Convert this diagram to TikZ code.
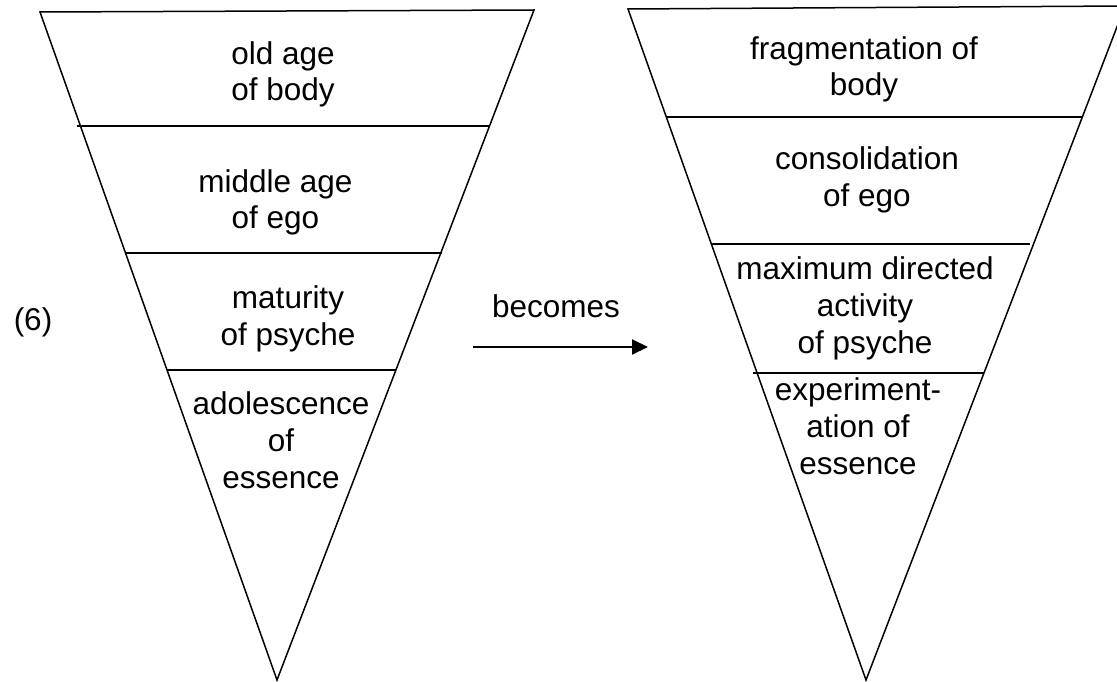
\documentclass[tikz,border=0pt]{standalone}
\usepackage{fontspec}
\setmainfont{Liberation Sans}
\usetikzlibrary{arrows.meta}
\begin{document}
\begin{tikzpicture}[x=1pt,y=-1pt,
  edge/.style={line width=1.5pt, line join=miter},
  divider/.style={line width=1.5pt},
  lbl/.style={font=\fontsize{31.5}{36.7}\selectfont, align=center, inner sep=0pt, anchor=base},
  flow/.style={line width=2pt, -{Triangle[length=16pt,width=15pt]}}]
\useasboundingbox (0,0) rectangle (1117,682);
\clip (0,0) rectangle (1117,682);
% left triangle
\coordinate (LTL) at (40,12);
\coordinate (LTR) at (534,10);
\coordinate (LA) at (277,680);
\draw[edge] (LTL) -- (LTR) -- (LA) -- cycle;
\coordinate (L1a) at (77,126);  \coordinate (L1b) at (489,126);
\coordinate (L2a) at (125,253); \coordinate (L2b) at (442,253);
\coordinate (L3a) at (167,370); \coordinate (L3b) at (396,370);
\draw[divider] (L1a) -- (L1b);
\draw[divider] (L2a) -- (L2b);
\draw[divider] (L3a) -- (L3b);
% right triangle
\coordinate (RTL) at (628,9);
\coordinate (RTR) at (1125,6);
\coordinate (RA) at (866,680);
\draw[edge] (RTL) -- (RTR) -- (RA) -- cycle;
\coordinate (R1a) at (667,117); \coordinate (R1b) at (1082,117);
\coordinate (R2a) at (712,244); \coordinate (R2b) at (1030,244);
\coordinate (R3a) at (753,373); \coordinate (R3b) at (984,373);
\draw[divider] (R1a) -- (R1b);
\draw[divider] (R2a) -- (R2b);
\draw[divider] (R3a) -- (R3b);
% labels (base anchor = baseline of last line)
\node[lbl] (l1) at (283,101) {old age\\of body};
\node[lbl] (l2) at (275.5,229) {middle age\\of ego};
\node[lbl] (l3) at (288,345) {maturity\\of psyche};
\node[lbl] (l4) at (281,488) {adolescence\\of\\essence};
\node[lbl] (r1) at (864,96) {fragmentation of\\body};
\node[lbl] (r2) at (867,206) {consolidation\\of ego};
\node[lbl] (r3) at (865,353) {maximum directed\\activity\\of psyche};
\node[lbl] (r4) at (858,474) {experiment-\\ation of\\essence};
\node[lbl] (num) at (33,330) {(6)};
\node[lbl] (bec) at (556,317) {becomes};
% arrow
\coordinate (arrS) at (473,347);
\coordinate (arrE) at (648,347);
\draw[flow] (arrS) -- (arrE);
\end{tikzpicture}
\end{document}
